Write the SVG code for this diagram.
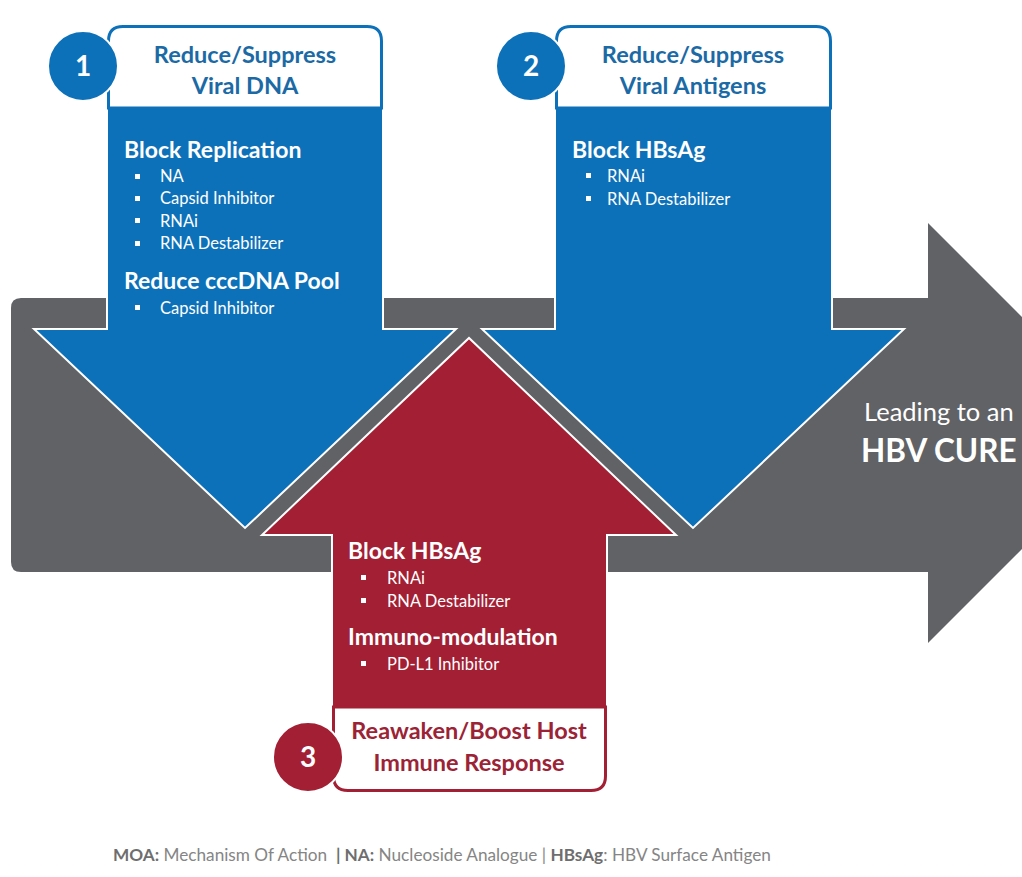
<svg xmlns="http://www.w3.org/2000/svg" width="1022" height="877" viewBox="0 0 1022 877">
  <style>
    .blue { fill: #0d71b9; stroke: #ffffff; stroke-width: 2; stroke-linejoin: miter; }
    .red { fill: #a31f34; stroke: #ffffff; stroke-width: 2; }
    .gray { fill: #616266; }
    .hdr-blue { fill: #ffffff; stroke: #0d71b9; stroke-width: 3; }
    .hdr-red { fill: #ffffff; stroke: #a31f34; stroke-width: 3; }
    .num-blue { fill: #0d71b9; stroke: #ffffff; stroke-width: 2; }
    .num-red { fill: #a31f34; stroke: #ffffff; stroke-width: 2; }
    text { font-family: Lato, "Open Sans", "Liberation Sans", sans-serif; }
    .num { fill: #ffffff; font-size: 28px; font-weight: bold; text-anchor: middle; }
    .title-blue { fill: #1b6aa5; font-size: 23.5px; font-weight: bold; text-anchor: middle; }
    .title-red { fill: #9b2335; font-size: 23.5px; font-weight: bold; text-anchor: middle; }
    .head { fill: #ffffff; font-size: 23px; font-weight: bold; }
    .item { fill: #ffffff; font-size: 16.5px; }
    .bullet { fill: #ffffff; }
    .lead { fill: #ffffff; font-size: 25.5px; }
    .cure { fill: #ffffff; font-size: 31.5px; font-weight: bold; }
    .foot { fill: #858585; font-size: 17.2px; }
    .foot-b { fill: #6e6e6e; font-weight: bold; }
  </style>

  <!-- main gray progress arrow -->
  <g id="progress">
    <path class="gray" d="M21,298 L928,298 L928,223 L1138,433 L928,643 L928,572 L21,572 Q11,572 11,562 L11,308 Q11,298 21,298 Z"/>
    <text class="lead" x="864" y="421">Leading to an</text>
    <text class="cure" x="861" y="462">HBV CURE</text>
  </g>

  <!-- 1: viral DNA -->
  <g id="moa-1">
    <path class="blue" d="M107,40 Q107,25 122,25 L368,25 Q383,25 383,40 L383,329 L456,329 L245,528 L34,329 L107,329 Z"/>
    <path class="hdr-blue" d="M108.5,108 L108.5,41 Q108.5,26.5 123,26.5 L367,26.5 Q381.5,26.5 381.5,41 L381.5,108 Z"/>
    <text class="title-blue" x="245" y="63">Reduce/Suppress</text>
    <text class="title-blue" x="245" y="94">Viral DNA</text>
    <circle class="num-blue" cx="83" cy="66" r="35"/>
    <text class="num" x="83" y="76">1</text>
    <text class="head" x="124" y="158">Block Replication</text>
    <rect class="bullet" x="135" y="174" width="5" height="5"/>
    <text class="item" x="160" y="182">NA</text>
    <rect class="bullet" x="135" y="196" width="5" height="5"/>
    <text class="item" x="160" y="204">Capsid Inhibitor</text>
    <rect class="bullet" x="135" y="218" width="5" height="5"/>
    <text class="item" x="160" y="227">RNAi</text>
    <rect class="bullet" x="135" y="241" width="5" height="5"/>
    <text class="item" x="160" y="249">RNA Destabilizer</text>
    <text class="head" x="124" y="289">Reduce cccDNA Pool</text>
    <rect class="bullet" x="135" y="305" width="5" height="5"/>
    <text class="item" x="160" y="314">Capsid Inhibitor</text>
  </g>

  <!-- 2: viral antigens -->
  <g id="moa-2">
    <path class="blue" d="M555,40 Q555,25 570,25 L817,25 Q832,25 832,40 L832,329 L904,329 L693,528 L482,329 L555,329 Z"/>
    <path class="hdr-blue" d="M556.5,108 L556.5,41 Q556.5,26.5 571,26.5 L816,26.5 Q830.5,26.5 830.5,41 L830.5,108 Z"/>
    <text class="title-blue" x="693" y="63">Reduce/Suppress</text>
    <text class="title-blue" x="693" y="94">Viral Antigens</text>
    <circle class="num-blue" cx="531" cy="66" r="35"/>
    <text class="num" x="531" y="76">2</text>
    <text class="head" x="572" y="158">Block HBsAg</text>
    <rect class="bullet" x="586" y="173" width="5" height="5"/>
    <text class="item" x="607" y="182">RNAi</text>
    <rect class="bullet" x="586" y="196" width="5" height="5"/>
    <text class="item" x="607" y="205">RNA Destabilizer</text>
  </g>

  <!-- 3: host immune response -->
  <g id="moa-3">
    <path class="red" d="M332,535 L262,535 L469,338 L676,535 L607,535 L607,777 Q607,792 592,792 L347,792 Q332,792 332,777 Z"/>
    <path class="hdr-red" d="M333.5,707 L605.5,707 L605.5,776 Q605.5,790.5 591,790.5 L348,790.5 Q333.5,790.5 333.5,776 Z"/>
    <text class="title-red" x="469" y="739">Reawaken/Boost Host</text>
    <text class="title-red" x="469" y="771">Immune Response</text>
    <circle class="num-red" cx="308" cy="757" r="35"/>
    <text class="num" x="308" y="767">3</text>
    <text class="head" x="348" y="559">Block HBsAg</text>
    <rect class="bullet" x="361" y="575" width="5" height="5"/>
    <text class="item" x="387" y="584">RNAi</text>
    <rect class="bullet" x="361" y="598" width="5" height="5"/>
    <text class="item" x="387" y="607">RNA Destabilizer</text>
    <text class="head" x="348" y="645">Immuno-modulation</text>
    <rect class="bullet" x="361" y="661" width="5" height="5"/>
    <text class="item" x="387" y="670">PD-L1 Inhibitor</text>
  </g>

  <!-- legend -->
  <g id="legend">
    <text class="foot" x="113" y="861" xml:space="preserve"><tspan class="foot-b">MOA:</tspan> Mechanism Of Action  <tspan class="foot-b">| NA:</tspan> Nucleoside Analogue | <tspan class="foot-b">HBsAg</tspan>: HBV Surface Antigen</text>
  </g>
</svg>
